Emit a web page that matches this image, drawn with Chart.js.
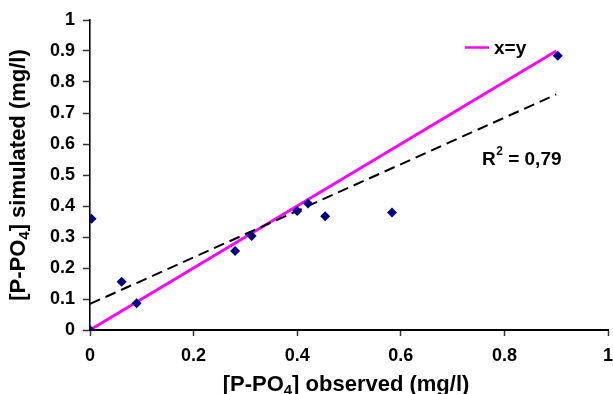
<!DOCTYPE html>
<html>
<head>
<meta charset="utf-8">
<script src="https://cdn.jsdelivr.net/npm/chart.js@4.4.1/dist/chart.umd.min.js"></script>
<style>
html,body{margin:0;padding:0;background:#fff;}
#wrap{width:613px;height:394px;}
</style>
</head>
<body>
<div id="wrap"><canvas id="c" width="613" height="394"></canvas></div>
<script>
// Observed vs simulated P-PO4 (mg/l)
const observed  = [0.000, 0.003, 0.061, 0.090, 0.280, 0.312, 0.400, 0.421, 0.454, 0.583, 0.903];
const simulated = [0.000, 0.359, 0.156, 0.086, 0.255, 0.303, 0.384, 0.408, 0.367, 0.379, 0.885];
const identityX = [0, 0.9];
const identityY = [0, 0.9];
const trendX = [0, 0.9];
const trendY = [0.084, 0.760];
const xTicks = [0, 0.2, 0.4, 0.6, 0.8, 1];
const yTicks = [0, 0.1, 0.2, 0.3, 0.4, 0.5, 0.6, 0.7, 0.8, 0.9, 1];
const xTitle = ['[P-PO', '4', '] observed (mg/l)'];
const yTitle = ['[P-PO', '4', '] simulated (mg/l)'];
const legendLabel = 'x=y';
const r2Label = ['R', '2', ' = 0,79'];

const FONT = "'Liberation Sans', Arial, Helvetica, sans-serif";
const toPts = (xs, ys) => xs.map((x, i) => ({x: x, y: ys[i]}));
const fmt = v => String(Number(v.toFixed(1)));

function drawSub(ctx, parts, size, cx, cy) {
  ctx.font = 'bold ' + size + 'px ' + FONT;
  const w0 = ctx.measureText(parts[0]).width;
  const w2 = ctx.measureText(parts[2]).width;
  const ss = Math.round(size * 0.68);
  ctx.font = 'bold ' + ss + 'px ' + FONT;
  const w1 = ctx.measureText(parts[1]).width;
  let x = cx - (w0 + w1 + w2) / 2;
  ctx.textAlign = 'left';
  ctx.textBaseline = 'alphabetic';
  ctx.font = 'bold ' + size + 'px ' + FONT;
  ctx.fillText(parts[0], x, cy); x += w0;
  ctx.font = 'bold ' + ss + 'px ' + FONT;
  ctx.fillText(parts[1], x, cy + size * 0.2); x += w1;
  ctx.font = 'bold ' + size + 'px ' + FONT;
  ctx.fillText(parts[2], x, cy);
}

const annot = {
  id: 'annot',
  afterDraw(chart) {
    const ctx = chart.ctx;
    const ca = chart.chartArea;
    ctx.save();
    ctx.fillStyle = '#000';
    // x axis title
    drawSub(ctx, xTitle, 22, 346, 391);
    // y axis title
    ctx.save();
    ctx.translate(25, (ca.top + ca.bottom) / 2);
    ctx.rotate(-Math.PI / 2);
    drawSub(ctx, yTitle, 22, 0, 0);
    ctx.restore();
    // legend
    ctx.strokeStyle = '#FF00FF';
    ctx.lineWidth = 2.5;
    ctx.beginPath();
    ctx.moveTo(465, 47.5);
    ctx.lineTo(489, 47.5);
    ctx.stroke();
    ctx.font = 'bold 19px ' + FONT;
    ctx.textAlign = 'left';
    ctx.textBaseline = 'alphabetic';
    ctx.fillText(legendLabel, 494, 54);
    // R^2 label
    ctx.font = 'bold 19px ' + FONT;
    let x = 482;
    ctx.fillText(r2Label[0], x, 165); x += ctx.measureText(r2Label[0]).width + 0.5;
    ctx.font = 'bold 12px ' + FONT;
    ctx.fillText(r2Label[1], x, 155); x += ctx.measureText(r2Label[1]).width;
    ctx.font = 'bold 19px ' + FONT;
    ctx.fillText(r2Label[2], x, 165);
    ctx.restore();
  }
};

new Chart(document.getElementById('c'), {
  type: 'scatter',
  data: {
    datasets: [
      {
        label: 'data',
        data: toPts(observed, simulated),
        pointStyle: 'rectRot',
        pointRadius: 5,
        pointHoverRadius: 5,
        backgroundColor: '#000080',
        borderColor: '#000080',
        borderWidth: 0,
        order: 0
      },
      {
        type: 'line',
        label: legendLabel,
        data: toPts(identityX, identityY),
        borderColor: '#FF00FF',
        borderWidth: 2.8,
        pointRadius: 0,
        fill: false,
        order: 2
      },
      {
        type: 'line',
        label: 'trend',
        data: toPts(trendX, trendY),
        borderColor: '#000000',
        borderWidth: 2,
        borderDash: [11, 6],
        pointRadius: 0,
        fill: false,
        order: 1
      }
    ]
  },
  options: {
    responsive: false,
    animation: false,
    events: [],
    layout: {padding: {top: 20, right: 0, left: 0, bottom: 0}},
    plugins: {legend: {display: false}, tooltip: {enabled: false}},
    scales: {
      x: {
        type: 'linear',
        min: 0, max: 1,
        afterFit(s) { s.height = 64; s.paddingRight = 5; },
        afterBuildTicks(s) { s.ticks = xTicks.map(v => ({value: v})); },
        border: {display: true, color: '#000', width: 2},
        grid: {display: true, drawOnChartArea: false, drawTicks: true, tickLength: 6, tickColor: '#333', tickWidth: 1.5},
        ticks: {
          color: '#000', padding: 9, maxRotation: 0, autoSkip: false,
          font: {family: FONT, size: 18, weight: 'bold'},
          callback: v => fmt(v)
        }
      },
      y: {
        type: 'linear',
        min: 0, max: 1,
        afterFit(s) { s.width = 90; },
        afterBuildTicks(s) { s.ticks = yTicks.map(v => ({value: v})); },
        border: {display: true, color: '#000', width: 1.6},
        grid: {display: true, drawOnChartArea: false, drawTicks: true, tickLength: 7, tickColor: '#333', tickWidth: 1.5},
        ticks: {
          color: '#000', padding: 8, autoSkip: false,
          font: {family: FONT, size: 18, weight: 'bold'},
          callback: v => fmt(v)
        }
      }
    }
  },
  plugins: [annot]
});
</script>
</body>
</html>
